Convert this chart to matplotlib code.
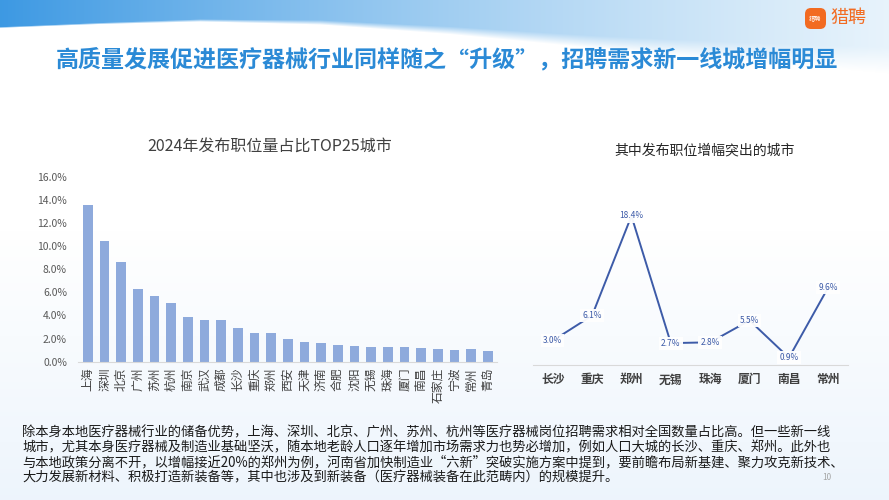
import numpy as np
import matplotlib
matplotlib.use("Agg")
import matplotlib.pyplot as plt
from matplotlib.patches import FancyBboxPatch

plt.rcParams['font.family'] = ['Noto Sans CJK SC', 'DejaVu Sans']

# bar chart data
bar_cities = ["上海", "深圳", "北京", "广州", "苏州", "杭州", "南京", "武汉", "成都", "长沙",
              "重庆", "郑州", "西安", "天津", "济南", "合肥", "沈阳", "无锡", "珠海", "厦门",
              "南昌", "石家庄", "宁波", "常州", "青岛"]
bar_share = [13.55, 10.4, 8.65, 6.25, 5.7, 5.1, 3.9, 3.6, 3.6, 2.95,
             2.5, 2.5, 1.92, 1.7, 1.6, 1.42, 1.32, 1.25, 1.25, 1.3,
             1.2, 1.12, 0.98, 1.1, 0.9]

# line chart data
line_cities = ["长沙", "重庆", "郑州", "无锡", "珠海", "厦门", "南昌", "常州"]
line_growth = [3.0, 6.1, 18.4, 2.7, 2.8, 5.5, 0.9, 9.6]

title = "高质量发展促进医疗器械行业同样随之“升级”，招聘需求新一线城增幅明显"
body_lines = [
    "除本身本地医疗器械行业的储备优势，上海、深圳、北京、广州、苏州、杭州等医疗器械岗位招聘需求相对全国数量占比高。但一些新一线",
    "城市，尤其本身医疗器械及制造业基础坚沃，随本地老龄人口逐年增加市场需求力也势必增加，例如人口大城的长沙、重庆、郑州。此外也",
    "与本地政策分离不开，以增幅接近20%的郑州为例，河南省加快制造业“六新”突破实施方案中提到，要前瞻布局新基建、聚力攻克新技术、",
    "大力发展新材料、积极打造新装备等，其中也涉及到新装备（医疗器械装备在此范畴内）的规模提升。",
]

W, H = 889, 500
fig = plt.figure(figsize=(W / 100, H / 100), dpi=100)

# background: light blue fade at bottom, blue swoosh at the top
bg = fig.add_axes([0, 0, 1, 1], zorder=-10)
yy, xx = np.mgrid[0:H, 0:W]
img = np.ones((H, W, 3))
low = np.clip((yy - 230) / 270, 0, 1)[..., None]
img = img * (1 - low * 0.5) + np.array([0.86, 0.92, 0.98]) * (low * 0.5)
edge = np.interp(xx, [0, 100, 200, 320, 450, 600, 750, 889], [27, 23, 20, 22, 30, 42, 52, 60])
soft = 1.5 + 25 * (xx / W) ** 2
alpha = np.clip((edge - yy) / soft + 0.5, 0, 1)
t = (xx / W)[..., None]
swoosh = (1 - t) * np.array([0.24, 0.6, 0.89]) + t * np.array([0.86, 0.93, 0.98])
a = (alpha * (1 - 0.35 * xx / W))[..., None]
img = img * (1 - a) + swoosh * a
bg.imshow(img, extent=[0, W, H, 0], aspect='auto')
bg.set_xlim(0, W)
bg.set_ylim(H, 0)
bg.axis('off')

# logo
logo = FancyBboxPatch((805, 8), 21, 21, boxstyle="round,pad=0,rounding_size=6",
                      fc="#f26b21", ec="none", transform=bg.transData)
bg.add_patch(logo)
bg.text(815.5, 18.5, "猎聘", fontsize=4.5, color="white", ha="center", va="center")
bg.text(830, 18.5, "猎聘", fontsize=13, color="#f26b21", ha="left", va="center")

# main title
fig.text(447 / W, 1 - 60 / H, title, fontsize=16.6, fontweight='bold', color="#2b8ad6",
         ha="center", va="center")

# bar chart
ax1 = fig.add_axes([78 / W, 1 - 361.7 / H, (497 - 78) / W, 185 / H])
ax1.patch.set_alpha(0)
x = np.arange(len(bar_cities))
ax1.bar(x, bar_share, width=0.58, color="#8eaadc")
ax1.set_xlim(-0.6, len(bar_cities) - 0.45)
ax1.set_ylim(0, 16)
ax1.set_yticks(np.arange(0, 17, 2))
ax1.set_yticklabels([f"{v:.1f}%" for v in np.arange(0, 17, 2)], fontsize=7.5, color="#595959")
ax1.set_xticks(x)
ax1.set_xticklabels(bar_cities, rotation=90, fontsize=8.5, color="#404040")
for s in ["top", "right", "left"]:
    ax1.spines[s].set_visible(False)
ax1.spines["bottom"].set_color("#d9d9d9")
ax1.tick_params(length=0, pad=4)
ax1.tick_params(axis='y', pad=8)
fig.text(270 / W, 1 - 147 / H, "2024年发布职位量占比TOP25城市", fontsize=11.5,
         color="#404040", ha="center", va="center")

# line chart
ax2 = fig.add_axes([533 / W, 1 - 365 / H, (848 - 533) / W, 162 / H])
ax2.patch.set_alpha(0)
xl = np.arange(len(line_cities))
ax2.plot(xl, line_growth, color="#3d5ba8", lw=1.4)
for xi, v in zip(xl, line_growth):
    ax2.text(xi, v, f"{v:.1f}%", fontsize=6, color="#3d5ba8", ha="center", va="center",
             bbox=dict(boxstyle="square,pad=0.25", fc="white", ec="none", alpha=0.95))
ax2.set_xlim(-0.5, len(line_cities) - 0.5)
ax2.set_ylim(0, 20)
ax2.set_yticks([])
ax2.set_xticks(xl)
ax2.set_xticklabels(line_cities, fontsize=8.5, color="#404040", fontweight='bold')
for s in ["top", "right", "left"]:
    ax2.spines[s].set_visible(False)
ax2.spines["bottom"].set_color("#d9d9d9")
ax2.tick_params(length=0, pad=6)
fig.text(705 / W, 1 - 151 / H, "其中发布职位增幅突出的城市", fontsize=10,
         color="#262626", ha="center", va="center")

# body text
for i, line in enumerate(body_lines):
    fig.text(22 / W, 1 - (432 + 15 * i) / H, line, fontsize=9.55, color="#1a1a1a",
             ha="left", va="center")
fig.text(827 / W, 1 - 477 / H, "10", fontsize=6, color="#a6a6a6", ha="center", va="center")

fig.savefig("out.png", dpi=100)
